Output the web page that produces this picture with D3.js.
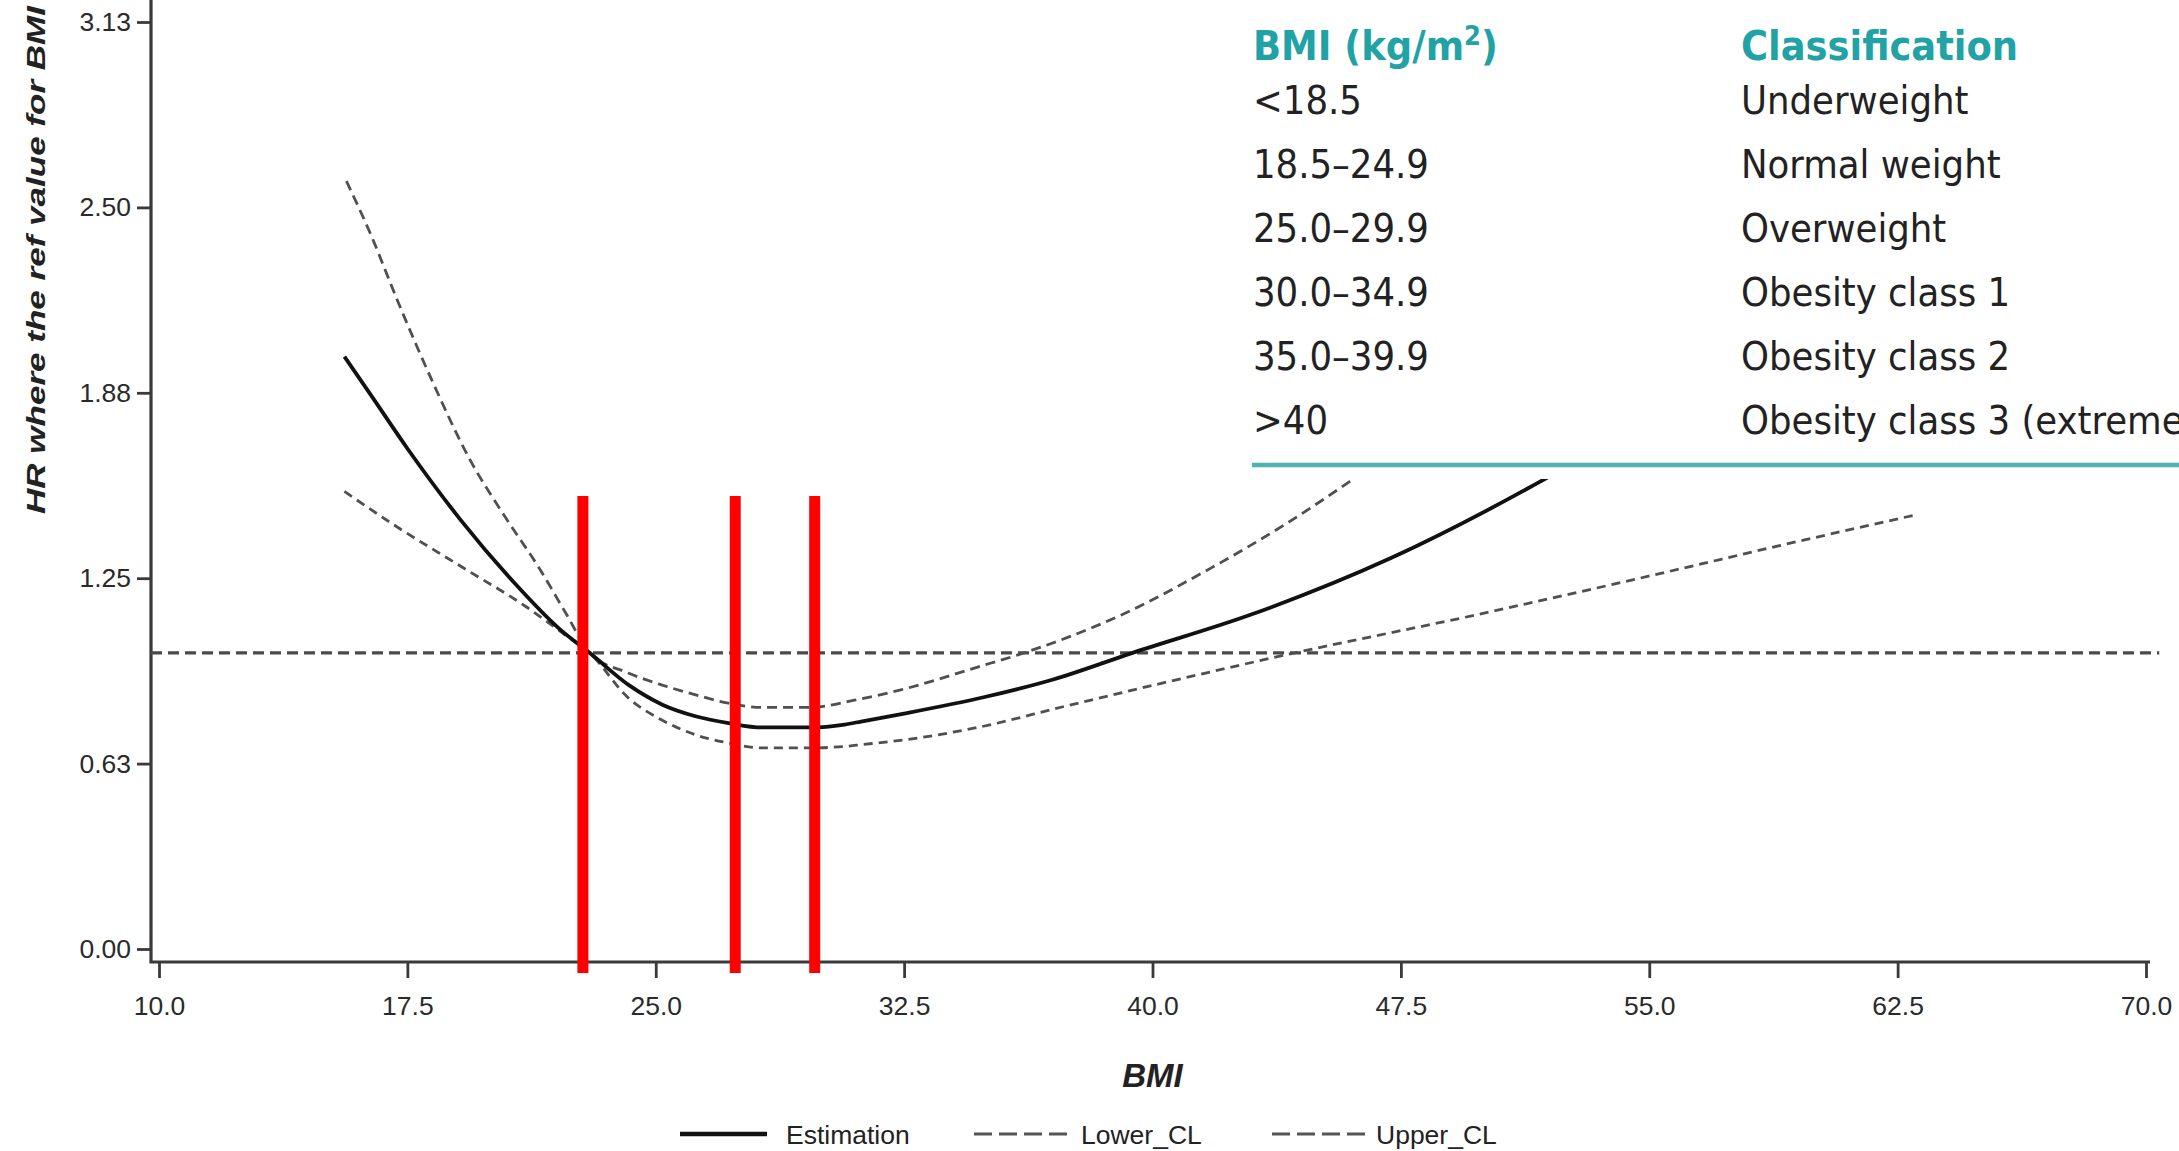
<!DOCTYPE html>
<html>
<head>
<meta charset="utf-8">
<script src="https://cdn.jsdelivr.net/npm/d3@7"></script>
<style>
  body { margin: 0; background: #fff; }
  svg { display: block; }
</style>
</head>
<body>
<div id="chart"></div>
<script>
// curves: [BMI, HR]
var estimation = [[15.6, 2.00], [16.4, 1.87], [17.5, 1.69], [19.1, 1.45], [20.7, 1.24], [22.1, 1.08],
  [23.0, 1.0], [24.2, 0.89], [25.2, 0.825], [26.2, 0.786], [27.2, 0.763], [28.2, 0.748], [29.7, 0.748],
  [30.7, 0.758], [31.2, 0.768], [32.5, 0.795], [34.9, 0.85], [37.0, 0.91], [39.4, 1.0], [43.0, 1.13],
  [47.2, 1.32], [51.8, 1.584], [53.0, 1.66]];
var upperCL = [[15.66, 2.593], [16.4, 2.411], [17.21, 2.187], [18.29, 1.908], [19.37, 1.656], [20.44, 1.461],
  [21.52, 1.279], [22.33, 1.125], [23.0, 1.0], [24.17, 0.932], [25.17, 0.892], [26.18, 0.859], [27.19, 0.83],
  [28.19, 0.816], [29.7, 0.816], [31.0, 0.84], [32.4, 0.875], [34.72, 0.952], [36.1, 0.999],
  [39.06, 1.128], [41.76, 1.286], [43.98, 1.432], [45.95, 1.578], [47.0, 1.66]];
var lowerCL = [[15.6, 1.545], [17.08, 1.433], [19.1, 1.293], [21.12, 1.153], [22.33, 1.055], [23.0, 1.0],
  [24.17, 0.848], [25.17, 0.774], [26.18, 0.724], [27.19, 0.696], [28.19, 0.679], [29.7, 0.679], [30.7, 0.684],
  [31.21, 0.69], [32.5, 0.706], [34.72, 0.748], [37.3, 0.818], [40.0, 0.89], [44.3, 1.0], [49.64, 1.125],
  [54.56, 1.248], [59.48, 1.376], [63.05, 1.466]];

var refHR = 1.0;
var redMarks = [22.8, 27.4, 29.8];

var xTicks = [10, 17.5, 25, 32.5, 40, 47.5, 55, 62.5, 70];
var yTicks = [0, 0.626, 1.252, 1.878, 2.504, 3.13];

var legendLabels = ['Estimation', 'Lower_CL', 'Upper_CL'];

var tableHead = ['BMI (kg/m', 'Classification'];
var bmiRanges = ['<18.5', '18.5–24.9', '25.0–29.9', '30.0–34.9', '35.0–39.9', '>40'];
var bmiClasses = ['Underweight', 'Normal weight', 'Overweight', 'Obesity class 1', 'Obesity class 2', 'Obesity class 3 (extreme)'];

var W = 2179, H = 1151;
var FONT = '"Liberation Sans", Arial, sans-serif';
var TFONT = '"DejaVu Sans Condensed", "DejaVu Sans", sans-serif';
var TEAL = '#21a3a6';

var svg = d3.select('#chart').append('svg')
  .attr('width', W)
  .attr('height', H);

svg.append('rect').attr('width', W).attr('height', H).attr('fill', '#fff');

var x = d3.scaleLinear().domain([10, 70]).range([159, 2146]);
var y = d3.scaleLinear().domain([0, 3.13]).range([949, 22]);
var axisX = 151, axisY = 962;

// y axis
var yMinor = d3.range(0, 3.1301, 3.13 / 25);
var gy = svg.append('g').attr('transform', 'translate(' + axisX + ',0)');
gy.call(d3.axisLeft(y).tickValues(yMinor).tickSize(9).tickFormat(''));
gy.call(d3.axisLeft(y).tickValues(yTicks).tickSize(14).tickPadding(6).tickFormat(d3.format('.2f')));
gy.selectAll('.domain').remove();
gy.selectAll('line').attr('stroke', '#3a3a3a').attr('stroke-width', 2.8);
gy.selectAll('text').attr('font-family', FONT).attr('font-size', 26.5).attr('fill', '#2a2a2a');

// x axis
var xMinor = d3.range(10, 70.01, 1.5);
var gx = svg.append('g').attr('transform', 'translate(0,' + axisY + ')');
gx.call(d3.axisBottom(x).tickValues(xMinor).tickSize(10).tickFormat(''));
gx.call(d3.axisBottom(x).tickValues(xTicks).tickSize(16).tickPadding(18).tickFormat(d3.format('.1f')));
gx.selectAll('.domain').remove();
gx.selectAll('line').attr('stroke', '#3a3a3a').attr('stroke-width', 2.8);
gx.selectAll('text').attr('font-family', FONT).attr('font-size', 26.5).attr('fill', '#2a2a2a');

svg.append('path')
  .attr('d', 'M' + axisX + ',0V' + axisY + 'H' + (x(70) + 4))
  .attr('fill', 'none').attr('stroke', '#3a3a3a').attr('stroke-width', 3.2);

// axis titles
svg.append('text')
  .attr('transform', 'translate(45,514) rotate(-90)')
  .attr('font-family', FONT).attr('font-size', 25).attr('font-weight', 'bold').attr('font-style', 'italic')
  .attr('fill', '#222')
  .attr('textLength', 508).attr('lengthAdjust', 'spacingAndGlyphs')
  .text('HR where the ref value for BMI');

svg.append('text')
  .attr('x', (x(10) + x(70)) / 2).attr('y', 1087)
  .attr('text-anchor', 'middle')
  .attr('font-family', FONT).attr('font-size', 33).attr('font-weight', 'bold').attr('font-style', 'italic')
  .attr('fill', '#222')
  .text('BMI');

// reference line
svg.append('line')
  .attr('x1', axisX).attr('x2', x(70.4))
  .attr('y1', y(refHR)).attr('y2', y(refHR))
  .attr('stroke', '#4a4a4a').attr('stroke-width', 3.2).attr('stroke-dasharray', '11,6');

var line = d3.line()
  .x(function(d) { return x(d[0]); })
  .y(function(d) { return y(d[1]); })
  .curve(d3.curveMonotoneX);

svg.append('path').datum(lowerCL).attr('d', line)
  .attr('fill', 'none').attr('stroke', '#505050').attr('stroke-width', 2.8).attr('stroke-dasharray', '9,6');
svg.append('path').datum(upperCL).attr('d', line)
  .attr('fill', 'none').attr('stroke', '#505050').attr('stroke-width', 2.8).attr('stroke-dasharray', '10,6');
svg.append('path').datum(estimation).attr('d', line)
  .attr('fill', 'none').attr('stroke', '#111').attr('stroke-width', 3.8);

// red markers
svg.selectAll('.mark').data(redMarks).enter().append('rect')
  .attr('class', 'mark')
  .attr('x', function(d) { return x(d) - 5.5; })
  .attr('y', 496)
  .attr('width', 11)
  .attr('height', 477)
  .attr('fill', '#ff0000');

// legend
var legendLayout = [{lx: 680, len: 87, tx: 786}, {lx: 974, len: 100, tx: 1081}, {lx: 1272, len: 100, tx: 1376}];
var lg = svg.append('g');
legendLabels.forEach(function(name, i) {
  var L = legendLayout[i];
  lg.append('line')
    .attr('x1', L.lx).attr('x2', L.lx + L.len)
    .attr('y1', 1134).attr('y2', 1134)
    .attr('stroke', i === 0 ? '#111' : '#555')
    .attr('stroke-width', i === 0 ? 4.5 : 2.8)
    .attr('stroke-dasharray', i === 0 ? null : '18,7');
  lg.append('text')
    .attr('x', L.tx).attr('y', 1144)
    .attr('font-family', FONT).attr('font-size', 26.5).attr('fill', '#222')
    .text(name);
});

// classification table pasted on top
var tb = svg.append('g');
tb.append('rect')
  .attr('x', 1239).attr('y', 0).attr('width', W - 1239).attr('height', 479)
  .attr('fill', '#fff');

var head = tb.append('text')
  .attr('x', 1253).attr('y', 60)
  .attr('font-family', TFONT).attr('font-size', 41).attr('font-weight', 'bold').attr('fill', TEAL);
head.append('tspan').text(tableHead[0]);
head.append('tspan').attr('baseline-shift', 'super').attr('font-size', 27).text('2');
head.append('tspan').text(')');

tb.append('text')
  .attr('x', 1741).attr('y', 60)
  .attr('font-family', TFONT).attr('font-size', 41).attr('font-weight', 'bold').attr('fill', TEAL)
  .text(tableHead[1]);

tb.selectAll('.rng').data(bmiRanges).enter().append('text')
  .attr('class', 'rng')
  .attr('x', 1253)
  .attr('y', function(d, i) { return 114 + 64 * i; })
  .attr('font-family', TFONT).attr('font-size', 39.5).attr('fill', '#222')
  .text(function(d) { return d; });

tb.selectAll('.cls').data(bmiClasses).enter().append('text')
  .attr('class', 'cls')
  .attr('x', 1741)
  .attr('y', function(d, i) { return 114 + 64 * i; })
  .attr('font-family', TFONT).attr('font-size', 39.5).attr('fill', '#222')
  .text(function(d) { return d; });

tb.append('line')
  .attr('x1', 1252).attr('x2', W)
  .attr('y1', 465).attr('y2', 465)
  .attr('stroke', '#4db3ae').attr('stroke-width', 4.5);
</script>
</body>
</html>
